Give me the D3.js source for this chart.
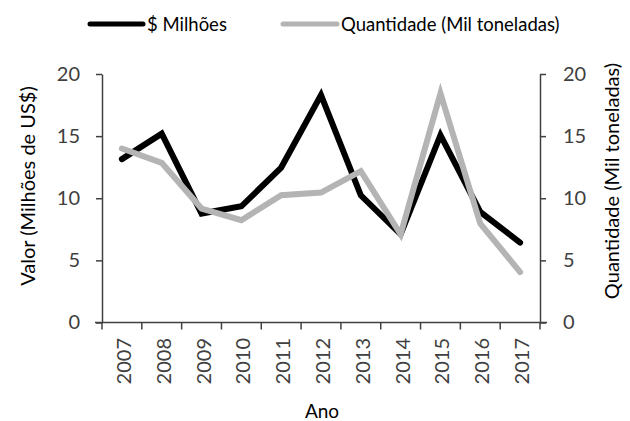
<!DOCTYPE html>
<html><head><meta charset="utf-8">
<script src="https://cdn.jsdelivr.net/npm/d3@7"></script>
<style>
html,body{margin:0;padding:0;background:#fff;}
svg{display:block;font-family:Lato, "Open Sans", sans-serif;}
</style></head>
<body>
<svg id="chart" width="630" height="421"></svg>
<script>
const years = ["2007","2008","2009","2010","2011","2012","2013","2014","2015","2016","2017"];
const valorMilhoes = [13.15, 15.2, 8.77, 9.35, 12.47, 18.3, 10.24, 7.1, 15.08, 8.9, 6.43];
const quantidadeMilT = [14.0, 12.85, 9.17, 8.23, 10.24, 10.46, 12.18, 7.1, 18.44, 7.96, 4.06];
const yTicks = [0, 5, 10, 15, 20];
const seriesNames = ["$ Milhões", "Quantidade (Mil toneladas)"];

const svg = d3.select("#chart");
const L = 102, R = 540, T = 74, B = 322.5;
const axisColor = "#404040";

const x = d3.scaleBand().domain(years).range([L, R]);
const yL = d3.scaleLinear().domain([0, 20]).range([B, T]);
const yR = d3.scaleLinear().domain([0, 20]).range([B, T]);

// left axis
const gL = svg.append("g").attr("transform", `translate(${L},0)`)
  .call(d3.axisLeft(yL).tickValues(yTicks).tickSize(6).tickPadding(16).tickSizeOuter(0));
// right axis
const gR = svg.append("g").attr("transform", `translate(${R},0)`)
  .call(d3.axisRight(yR).tickValues(yTicks).tickSize(6).tickPadding(17).tickSizeOuter(0));
[gL, gR].forEach(g => {
  g.select(".domain").attr("stroke", axisColor).attr("stroke-width", 1.5);
  g.selectAll(".tick line").attr("stroke", axisColor).attr("stroke-width", 1.5);
  g.selectAll(".tick text").attr("fill", "#404040").style("font-size", "20px").style("font-family", "Lato");
});

// x axis line with ticks at category boundaries
const gX = svg.append("g");
gX.append("line").attr("x1", L - 7).attr("x2", R + 7).attr("y1", B).attr("y2", B)
  .attr("stroke", axisColor).attr("stroke-width", 1.5);
const bounds = years.map(d => x(d)).concat([x(years[years.length-1]) + x.bandwidth()]);
gX.selectAll("line.tk").data(bounds).join("line").attr("class","tk")
  .attr("x1", d => d).attr("x2", d => d).attr("y1", B).attr("y2", B + 7)
  .attr("stroke", axisColor).attr("stroke-width", 1.5);
gX.selectAll("text.yl").data(years).join("text").attr("class","yl")
  .attr("transform", d => `translate(${x(d) + x.bandwidth()/2 + 1},${338}) rotate(-90)`)
  .attr("text-anchor", "end").attr("dominant-baseline", "central")
  .attr("fill", "#404040").style("font-size", "20px").text(d => d);

// lines
const lineV = d3.line().x((d,i) => x(years[i]) + x.bandwidth()/2).y(d => yL(d));
const lineQ = d3.line().x((d,i) => x(years[i]) + x.bandwidth()/2).y(d => yR(d));
svg.append("path").datum(valorMilhoes).attr("d", lineV).attr("fill","none")
  .attr("stroke","#000").attr("stroke-width",6).attr("stroke-linejoin","miter").attr("stroke-linecap","round");
svg.append("path").datum(quantidadeMilT).attr("d", lineQ).attr("fill","none")
  .attr("stroke","#b4b4b4").attr("stroke-width",6).attr("stroke-linejoin","miter").attr("stroke-linecap","round");

// axis titles
svg.append("text").attr("transform", `translate(27,186) rotate(-90)`)
  .attr("text-anchor","middle").attr("dominant-baseline","central")
  .attr("fill","#000").style("font-size","20px").text("Valor (Milhões de US$)");
svg.append("text").attr("transform", `translate(611,181) rotate(-90)`)
  .attr("text-anchor","middle").attr("dominant-baseline","central")
  .attr("fill","#000").style("font-size","20px").text("Quantidade (Mil toneladas)");
svg.append("text").attr("x", 322).attr("y", 418).attr("text-anchor","middle")
  .attr("fill","#000").style("font-size","19px").text("Ano");

// legend
const leg = [{name: seriesNames[0], color:"#000", x1:90, x2:143, tx:147},
             {name: seriesNames[1], color:"#b4b4b4", x1:283, x2:337, tx:341}];
const lg = svg.append("g");
leg.forEach(d => {
  lg.append("line").attr("x1", d.x1).attr("x2", d.x2).attr("y1", 24).attr("y2", 24)
    .attr("stroke", d.color).attr("stroke-width", 5).attr("stroke-linecap","round");
  lg.append("text").attr("x", d.tx).attr("y", 24).attr("dominant-baseline","central")
    .attr("fill","#000").style("font-size","18.5px").text(d.name);
});
</script>
</body></html>
